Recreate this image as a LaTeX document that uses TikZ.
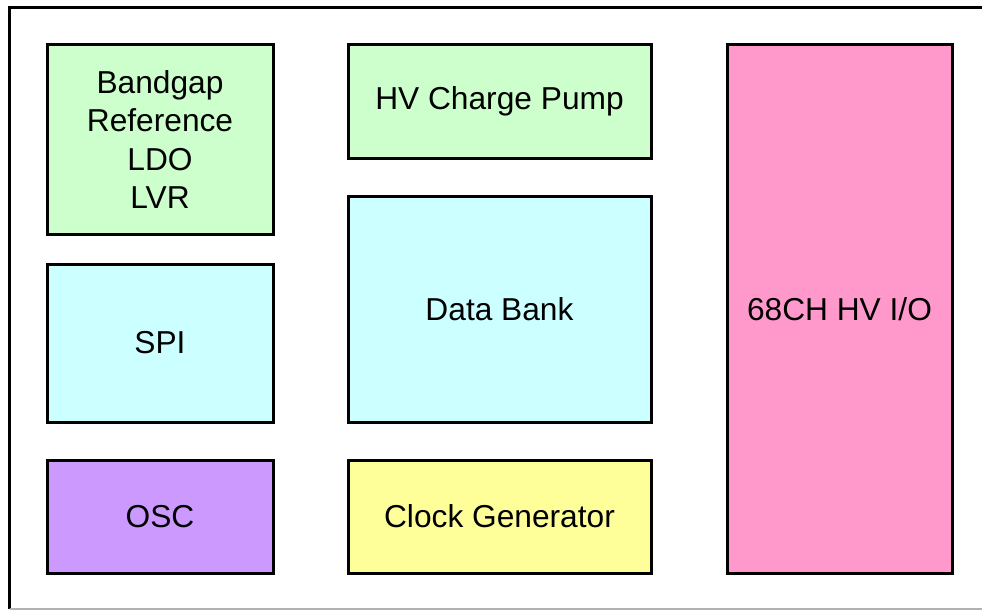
\documentclass[tikz,border=0pt]{standalone}
\usepackage{fontspec}
\setmainfont{Liberation Sans}
\definecolor{cgreen}{HTML}{CCFFCC}
\definecolor{ccyan}{HTML}{CCFFFF}
\definecolor{cpurple}{HTML}{CC99FF}
\definecolor{cyellow}{HTML}{FFFF99}
\definecolor{cpink}{HTML}{FF99CC}
\begin{document}
\begin{tikzpicture}[x=1pt,y=-1pt,
  blk/.style={draw=black,line width=3pt,inner sep=0pt,align=center,
    font=\fontsize{31.7}{38.5}\selectfont},
  frameline/.style={draw=black,line width=3pt}]
\useasboundingbox (0,0) rectangle (982,610);
\fill[white] (0,0) rectangle (982,610);
\coordinate (tl) at (9.5,7.5);
\coordinate (tr) at (990,7.5);
\coordinate (bl) at (9.5,609);
\coordinate (br) at (990,609);
\draw[frameline] (tr) -- (tl) -- (bl);
\draw[gray!60,line width=1.5pt] (bl) -- (br);
\node[blk,fill=cgreen,minimum width=226pt,minimum height=189pt] (bg) at (160,139.5) {Bandgap\\Reference\\LDO\\LVR};
\node[blk,fill=ccyan,minimum width=226pt,minimum height=158pt] (spi) at (160,343) {SPI};
\node[blk,fill=cpurple,minimum width=226pt,minimum height=113pt] (osc) at (160,516.5) {OSC};
\node[blk,fill=cgreen,minimum width=303pt,minimum height=113pt] (hv) at (499.5,101.5) {HV Charge Pump};
\node[blk,fill=ccyan,minimum width=303pt,minimum height=226pt] (db) at (499.5,309) {Data Bank};
\node[blk,fill=cyellow,minimum width=303pt,minimum height=113pt] (clk) at (499.5,516.5) {Clock Generator};
\node[blk,fill=cpink,minimum width=225pt,minimum height=528pt] (io) at (839.5,309) {68CH HV I/O};
\end{tikzpicture}
\end{document}
